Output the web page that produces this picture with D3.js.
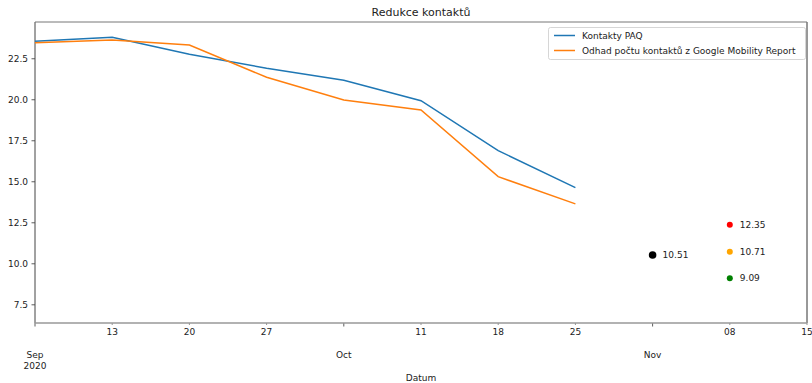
<!DOCTYPE html>
<html>
<head>
<meta charset="utf-8">
<script src="https://cdn.jsdelivr.net/npm/d3@7"></script>
<style>
  body { margin: 0; background: #fff; }
  text { font-family: "DejaVu Sans", sans-serif; }
</style>
</head>
<body>
<div id="chart"></div>
<script>
// weekly dates (Sundays)
var dates = ["2020-09-06", "2020-09-13", "2020-09-20", "2020-09-27",
  "2020-10-04", "2020-10-11", "2020-10-18", "2020-10-25"];
var paqValues = [23.54, 23.78, 22.74, 21.89, 21.16, 19.91, 16.87, 14.61];
var googleValues = [23.45, 23.62, 23.31, 21.34, 19.96, 19.35, 15.28, 13.62];

// single estimates
var pointDates = ["2020-11-01", "2020-11-08", "2020-11-08", "2020-11-08"];
var pointValues = [10.51, 12.35, 10.71, 9.09];
var pointColors = ["black", "red", "orange", "green"];

var yTicks = [7.5, 10.0, 12.5, 15.0, 17.5, 20.0, 22.5];
var seriesNames = ["Kontakty PAQ", "Odhad počtu kontaktů z Google Mobility Report"];

var svgWidth = 812;
var svgHeight = 383;
var fs = 9;

var margin = { top: 22, right: 5, bottom: 60, left: 35 };
var width = svgWidth - margin.left - margin.right;
var height = svgHeight - margin.top - margin.bottom;

var parse = d3.utcParse("%Y-%m-%d");

var svg = d3.select("#chart")
  .append("svg")
  .attr("width", svgWidth)
  .attr("height", svgHeight);

var chartGroup = svg.append("g")
  .attr("transform", `translate(${margin.left}, ${margin.top})`);

var xScale = d3.scaleUtc()
  .domain([parse("2020-09-06"), parse("2020-11-15")])
  .range([0, width]);

var yScale = d3.scaleLinear()
  .domain([6.36, 24.71])
  .range([height, 0]);

// x ticks: every Sunday, month label on first Sunday of a month
var xTicks = d3.utcSunday.range(parse("2020-09-06"), parse("2020-11-16"));
var isMajor = d => d.getUTCDate() <= 7;

var xAxisG = chartGroup.append("g")
  .attr("transform", `translate(0, ${height})`);

xAxisG.selectAll(".xtick")
  .data(xTicks)
  .enter()
  .append("line")
  .attr("x1", d => xScale(d))
  .attr("x2", d => xScale(d))
  .attr("y1", 0)
  .attr("y2", d => isMajor(d) ? 3.5 : 2)
  .attr("stroke", d => isMajor(d) ? "#333" : "#777")
  .attr("stroke-width", 0.8);

xAxisG.selectAll(".minorLabel")
  .data(xTicks.filter(d => !isMajor(d)))
  .enter()
  .append("text")
  .attr("x", d => xScale(d))
  .attr("y", 12)
  .attr("text-anchor", "middle")
  .attr("font-size", fs)
  .attr("fill", "#222")
  .text(d3.utcFormat("%d"));

var majorLabels = xAxisG.selectAll(".majorLabel")
  .data(xTicks.filter(isMajor))
  .enter()
  .append("text")
  .attr("x", d => xScale(d))
  .attr("y", 35)
  .attr("text-anchor", "middle")
  .attr("font-size", fs)
  .attr("fill", "#222");

majorLabels.append("tspan")
  .attr("x", d => xScale(d))
  .text(d3.utcFormat("%b"));

majorLabels.filter((d, i) => i === 0)
  .append("tspan")
  .attr("x", d => xScale(d))
  .attr("dy", 10.5)
  .text(d3.utcFormat("%Y"));

// y axis
var leftAxis = d3.axisLeft(yScale)
  .tickValues(yTicks)
  .tickFormat(d3.format(".1f"))
  .tickSize(3.5)
  .tickPadding(3.5);

var yAxisG = chartGroup.append("g").call(leftAxis);
yAxisG.select(".domain").remove();
yAxisG.selectAll("line").attr("stroke", "#333").attr("stroke-width", 0.8);
yAxisG.selectAll("text")
  .attr("font-family", "DejaVu Sans")
  .attr("font-size", fs)
  .attr("fill", "#222");

// spines
chartGroup.append("line").attr("x1", 0).attr("x2", 0).attr("y1", 0).attr("y2", height)
  .attr("stroke", "#444").attr("stroke-width", 1);
chartGroup.append("line").attr("x1", width).attr("x2", width).attr("y1", 0).attr("y2", height)
  .attr("stroke", "#333").attr("stroke-width", 1);
chartGroup.append("line").attr("x1", 0).attr("x2", width).attr("y1", 0).attr("y2", 0)
  .attr("stroke", "#777").attr("stroke-width", 1);
chartGroup.append("line").attr("x1", 0).attr("x2", width).attr("y1", height).attr("y2", height)
  .attr("stroke", "#999").attr("stroke-width", 1.5);

// lines
var line = d3.line()
  .x(d => xScale(parse(d[0])))
  .y(d => yScale(d[1]));

chartGroup.append("path")
  .datum(d3.zip(dates, paqValues))
  .attr("fill", "none")
  .attr("stroke", "#1f77b4")
  .attr("stroke-width", 1.5)
  .attr("d", line);

chartGroup.append("path")
  .datum(d3.zip(dates, googleValues))
  .attr("fill", "none")
  .attr("stroke", "#ff7f0e")
  .attr("stroke-width", 1.5)
  .attr("d", line);

// points with labels
var points = pointDates.map((d, i) => ({ date: parse(d), value: pointValues[i], color: pointColors[i] }));

chartGroup.selectAll(".pt")
  .data(points)
  .enter()
  .append("circle")
  .attr("cx", d => xScale(d.date))
  .attr("cy", d => yScale(d.value))
  .attr("r", d => d.color === "black" ? 3.8 : 3)
  .attr("fill", d => d.color);

chartGroup.selectAll(".ptLabel")
  .data(points)
  .enter()
  .append("text")
  .attr("x", d => xScale(d.date) + 10)
  .attr("y", d => yScale(d.value))
  .attr("dy", "0.35em")
  .attr("font-size", fs)
  .attr("fill", "#222")
  .text(d => d.value.toFixed(2));

// legend
var legend = svg.append("g")
  .attr("transform", "translate(548, 27)");

legend.append("rect")
  .attr("x", 0.5)
  .attr("y", 0.5)
  .attr("width", 257)
  .attr("height", 32)
  .attr("rx", 2)
  .attr("fill", "white")
  .attr("stroke", "#ccc")
  .attr("stroke-width", 0.8);

var legendItems = legend.selectAll(".item")
  .data(seriesNames)
  .enter()
  .append("g")
  .attr("transform", (d, i) => `translate(0, ${8.5 + i * 15})`);

legendItems.append("line")
  .attr("x1", 6)
  .attr("x2", 27)
  .attr("stroke", (d, i) => i === 0 ? "#1f77b4" : "#ff7f0e")
  .attr("stroke-width", 1.5);

legendItems.append("text")
  .attr("x", 34)
  .attr("dy", "0.35em")
  .attr("font-size", fs)
  .attr("fill", "#222")
  .text(d => d);

// title and axis label
svg.append("text")
  .attr("x", margin.left + width / 2)
  .attr("y", 16)
  .attr("text-anchor", "middle")
  .attr("font-size", 11)
  .attr("fill", "#222")
  .text("Redukce kontaktů");

svg.append("text")
  .attr("x", margin.left + width / 2)
  .attr("y", 381)
  .attr("text-anchor", "middle")
  .attr("font-size", fs)
  .attr("fill", "#222")
  .text("Datum");
</script>
</body>
</html>
